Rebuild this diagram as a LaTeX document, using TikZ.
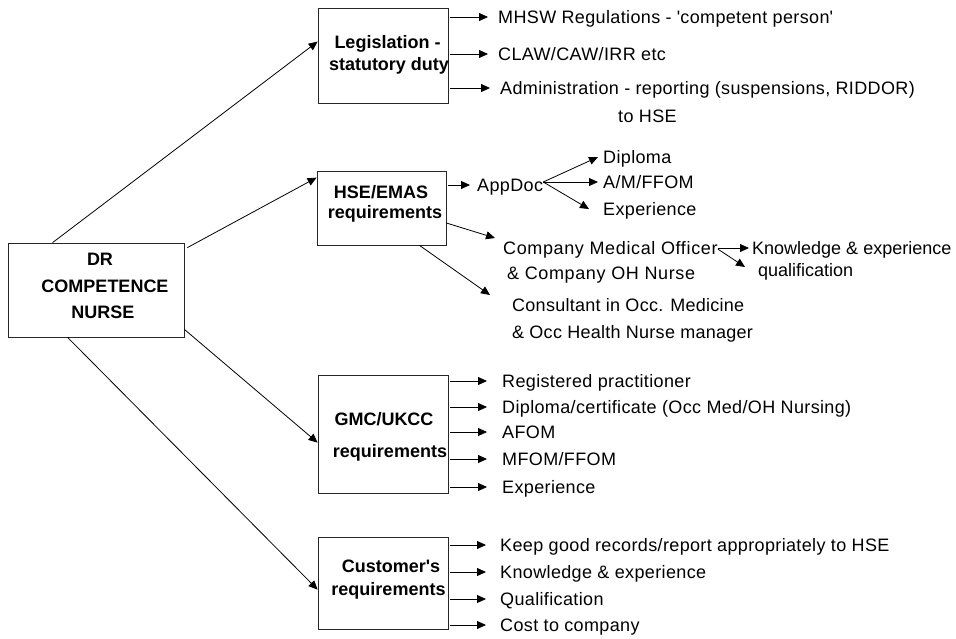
\documentclass[tikz,border=0pt]{standalone}
\usepackage{fontspec}
\setmainfont{Liberation Sans}
\newfontfamily\itemfont[LetterSpace=2]{Liberation Sans}
\newfontfamily\spaceda[LetterSpace=3.5]{Liberation Sans}
\newfontfamily\spacedb[LetterSpace=1.5]{Liberation Sans}
\usetikzlibrary{arrows.meta}
\begin{document}
\begin{tikzpicture}[x=1pt,y=-1pt,
  box/.style={draw=black!85, line width=0.8pt, inner sep=0pt, rectangle},
  btxt/.style={font=\fontsize{18}{20}\selectfont\bfseries, anchor=base, inner sep=0pt},
  item/.style={font=\fontsize{18}{20}\itemfont, anchor=west, inner sep=0pt, text height=13pt, text depth=0pt},
  arr/.style={line width=0.8pt, -{Triangle[length=9pt,width=8pt]}},
  hline/.style={arr, shorten <=2pt},
]
\useasboundingbox (0,0) rectangle (956,638);

% boxes
\node[box, minimum width=176pt, minimum height=94pt] (main) at (96,290) {};
\node[box, minimum width=130pt, minimum height=95pt] (leg) at (383,55.5) {};
\node[box, minimum width=129pt, minimum height=74pt] (hse) at (381.5,208) {};
\node[box, minimum width=130pt, minimum height=118pt] (gmc) at (383,434) {};
\node[box, minimum width=130pt, minimum height=92pt] (cust) at (383,583) {};

% box texts
\node[btxt] (mainA) at (100,265) {DR};
\node[btxt] (mainB) at (105,292) {COMPETENCE};
\node[btxt] (mainC) at (103,318) {NURSE};
\node[btxt] (legA) at (387.5,48) {Legislation -};
\node[btxt] (legB) at (389,70) {statutory duty};
\node[btxt] (hseA) at (381,198) {HSE/EMAS};
\node[btxt] (hseB) at (385,218) {requirements};
\node[btxt] (gmcA) at (384,425) {GMC/UKCC};
\node[btxt] (gmcB) at (390,457) {requirements};
\node[btxt] (custA) at (391,572) {Customer\textquotesingle s};
\node[btxt] (custB) at (388.5,595) {requirements};

% main connectors
\draw[arr] ([xshift=45pt]main.north west) -- ([yshift=-34pt]leg.north west);
\draw[arr] ([xshift=3pt,yshift=-5pt]main.north east) -- ([yshift=-7pt]hse.north west);
\draw[arr] ([yshift=8pt]main.south east) -- ([yshift=-68pt]gmc.north west);
\draw[arr] ([xshift=60pt]main.south west) -- ([yshift=-53pt]cust.north west);

% legislation items
\node[item] (m1) at (498,17) {MHSW Regulations - \textquotesingle competent person\textquotesingle};
\node[item] (m2) at (498,54) {CLAW/CAW/IRR etc};
\node[item] (m3) at (500,88) {Administration - reporting (suspensions, RIDDOR)};
\node[item] (m4) at (618,116) {to HSE};
\draw[hline, shorten >=10pt] (leg.east |- m1.west) -- (m1.west);
\draw[hline, shorten >=10pt] (leg.east |- m2.west) -- (m2.west);
\draw[hline, shorten >=10pt] (leg.east |- m3.west) -- (m3.west);

% HSE/EMAS items
\node[item] (appdoc) at (477,185) {AppDoc};
\node[item] (dip) at (603,157) {Diploma};
\node[item] (am) at (603,182) {A/M/FFOM};
\node[item] (expa) at (603,209) {Experience};
\draw[hline, shorten >=7pt] (hse.east |- appdoc.west) -- (appdoc.west);
\draw[arr] ([yshift=3pt]appdoc.east) -- ([xshift=-5pt]dip.west);
\draw[arr] ([yshift=3pt]appdoc.east) -- ([xshift=-5pt]am.west);
\draw[arr] ([yshift=3pt]appdoc.east) -- ([xshift=-14pt]expa.west);

\node[item, font=\fontsize{18}{20}\spaceda] (cmoA) at (503,248) {Company Medical Officer};
\node[item, font=\fontsize{18}{20}\spaceda] (cmoB) at (507,273) {\& Company OH Nurse};
\node[item, font=\fontsize{18}{20}\spacedb] (consA) at (512,305) {Consultant in Occ. Medicine};
\node[item, font=\fontsize{18}{20}\spacedb] (consB) at (512,332) {\& Occ Health Nurse manager};
\draw[arr] ([yshift=-15pt]hse.east) -- ([xshift=-8pt,yshift=10pt]cmoA.west);
\draw[arr] ([xshift=38pt]hse.south) -- ([xshift=-22pt,yshift=10pt]consA.west);

\node[item, font=\fontsize{18}{20}\selectfont] (kn) at (752,248) {Knowledge \& experience};
\node[item, font=\fontsize{18}{20}\selectfont] (qual) at (758,270) {qualification};
\draw[arr] (cmoA.east) -- ([xshift=-3pt]kn.west);
\draw[arr] ([yshift=-1pt]cmoA.east) -- ([xshift=-13pt,yshift=3pt]qual.west);

% GMC/UKCC items
\node[item] (g1) at (502,381) {Registered practitioner};
\node[item] (g2) at (502,407) {Diploma/certificate (Occ Med/OH Nursing)};
\node[item] (g3) at (502,432) {AFOM};
\node[item] (g4) at (502,459) {MFOM/FFOM};
\node[item] (g5) at (502,487) {Experience};
\foreach \n in {g1,g2,g3,g4,g5}
  \draw[hline, shorten >=15pt] (gmc.east |- \n.west) -- (\n.west);

% Customer's items
\node[item] (c1) at (500,545) {Keep good records/report appropriately to HSE};
\node[item] (c2) at (500,572) {Knowledge \& experience};
\node[item] (c3) at (500,599) {Qualification};
\node[item] (c4) at (500,625) {Cost to company};
\foreach \n in {c1,c2,c3,c4}
  \draw[hline, shorten >=14pt] (cust.east |- \n.west) -- (\n.west);
\end{tikzpicture}
\end{document}
